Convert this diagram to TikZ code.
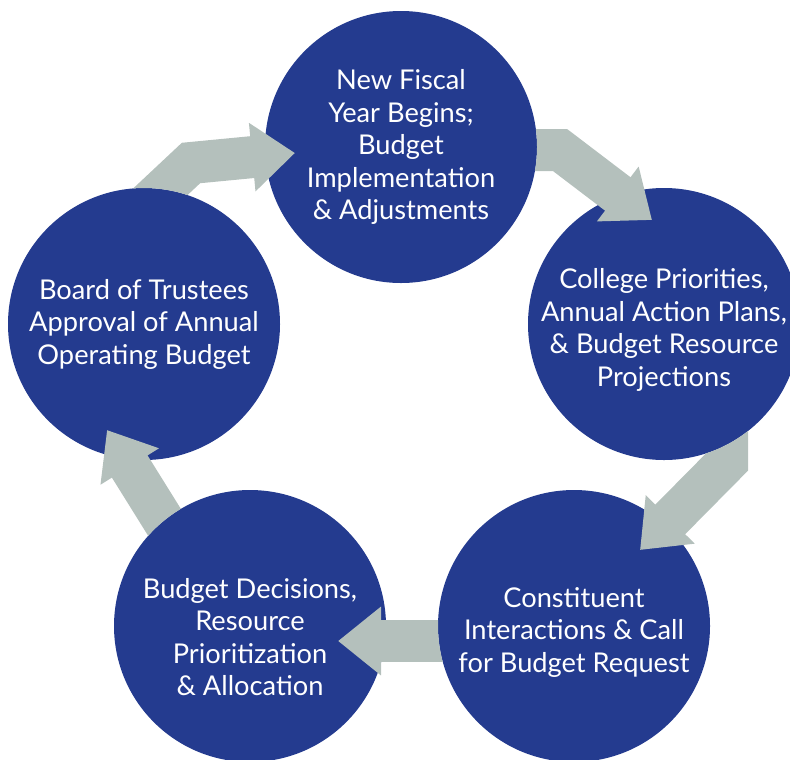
\documentclass[tikz,border=0pt]{standalone}
\usepackage{fontspec}
\setmainfont{Lato}
\usetikzlibrary{calc}
\usetikzlibrary{arrows.meta}
\definecolor{stageblue}{RGB}{36,59,143}
\definecolor{flowgray}{RGB}{180,192,188}
\tikzset{stage/.style={circle, fill=stageblue, minimum size=5.44cm, inner sep=0pt}}
\tikzset{stagetext/.style={text=white, align=center, inner sep=0pt,
	font=\fontsize{15.5pt}{18.5pt}\selectfont}}
\tikzset{flow/.style={draw=flowgray, line width=0.84cm,
	-{Triangle[width=1.32cm, length=0.86cm]}}}
\begin{document}
\begin{tikzpicture}
	\useasboundingbox (0,0) rectangle (15.8,-15.18);
	% the five stages
	\node[stage] (top) at (8.02,-2.94) {};
	\node[stage] (right) at (13.28,-6.48) {};
	\node[stage] (br) at (11.48,-12.52) {};
	\node[stage] (bl) at (5.00,-12.52) {};
	\node[stage] (left) at (2.88,-6.48) {};
	\node[stagetext] (top-t) at (top) {New Fiscal\\Year Begins;\\Budget\\Implementation\\\& Adjustments};
	\node[stagetext] (right-t) at ($(right)+(0,-0.12)$) {College Priorities,\\Annual Action Plans,\\\& Budget Resource\\Projections};
	\node[stagetext] (br-t) at ($(br)+(0,-0.12)$) {Constituent\\Interactions \& Call\\for Budget Request};
	\node[stagetext] (bl-t) at ($(bl)+(0,-0.22)$) {Budget Decisions,\\Resource\\Prioritization\\\& Allocation};
	\node[stagetext] (left-t) at (left) {Board of Trustees\\Approval of Annual\\Operating Budget};
	% arrows, tails hidden by the source circle
	\begin{scope}[even odd rule]
		\clip (-1,1) rectangle (17,-16) (left) circle [radius=2.72cm];
		\draw[flow] ($(left)+(-0.02,2.32)$) -- ($(left)+(0.94,3.22)$) -- ($(top)+(-2.12,-0.12)$);
	\end{scope}
	\begin{scope}[even odd rule]
		\clip (-1,1) rectangle (17,-16) (top) circle [radius=2.72cm];
		\draw[flow] ($(top)+(2.38,-0.06)$) -- ($(top)+(3.18,-0.06)$) -- ($(right)+(-0.24,2.08)$);
	\end{scope}
	\begin{scope}[even odd rule]
		\clip (-1,1) rectangle (17,-16) (right) circle [radius=2.72cm];
		\draw[flow] ($(right)+(1.26,-1.52)$) -- ($(right)+(1.26,-2.76)$) -- ($(br)+(1.32,1.52)$);
	\end{scope}
	\begin{scope}[even odd rule]
		\clip (-1,1) rectangle (17,-16) (br) circle [radius=2.72cm];
		\draw[flow] ($(br)+(-2.08,-0.30)$) -- ($(bl)+(1.76,-0.30)$);
	\end{scope}
	\begin{scope}[even odd rule]
		\clip (-1,1) rectangle (17,-16) (bl) circle [radius=2.72cm];
		\draw[flow] ($(bl)+(-1.34,1.48)$) -- ($(left)+(-0.74,-2.12)$);
	\end{scope}
\end{tikzpicture}
\end{document}
